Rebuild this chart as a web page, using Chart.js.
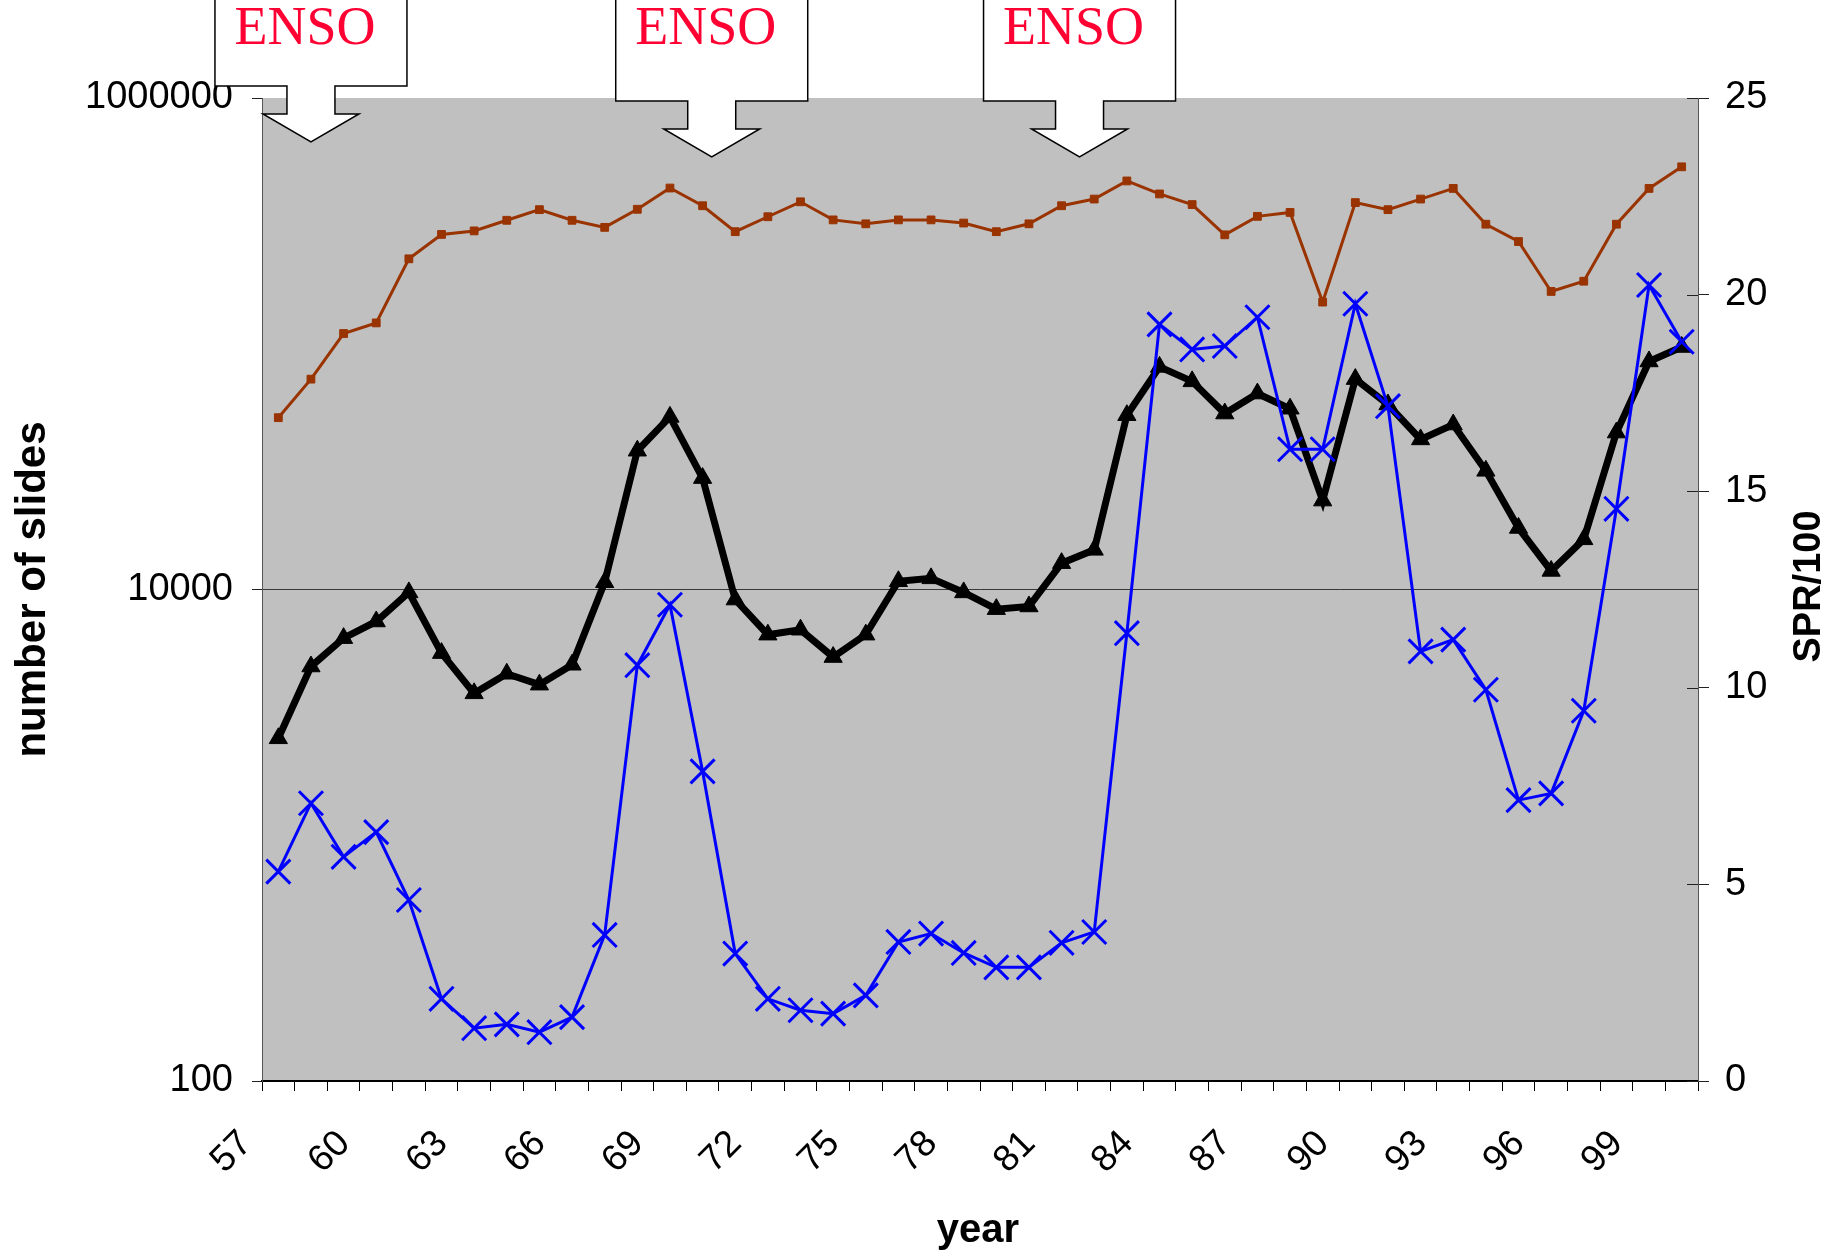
<!DOCTYPE html>
<html>
<head>
<meta charset="utf-8">
<script src="https://cdn.jsdelivr.net/npm/chart.js@4.4.1/dist/chart.umd.min.js"></script>
<style>
  html, body { margin: 0; padding: 0; background: #fff; }
  #wrap { width: 1826px; height: 1255px; }
</style>
</head>
<body>
<div id="wrap"><canvas id="chart" width="1826" height="1255"></canvas></div>
<script>
// Category axis: one entry per year, 1957 - 2000
const years = [1957, 1958, 1959, 1960, 1961, 1962, 1963, 1964, 1965, 1966, 1967,
  1968, 1969, 1970, 1971, 1972, 1973, 1974, 1975, 1976, 1977, 1978, 1979, 1980,
  1981, 1982, 1983, 1984, 1985, 1986, 1987, 1988, 1989, 1990, 1991, 1992, 1993,
  1994, 1995, 1996, 1997, 1998, 1999, 2000];
// Only every third year gets a label
const yearTicks = ['57', '60', '63', '66', '69', '72', '75', '78', '81', '84', '87', '90', '93', '96', '99'];

// Number of slides (thick black line, triangles) - left log axis
const slides = [2480, 4860, 6340, 7410, 9730, 5510, 3780, 4540, 4100, 4940, 10700,
  36700, 50400, 28400, 9100, 6550, 6860, 5310, 6550, 10800, 11100, 9730, 8320,
  8530, 12800, 14500, 51200, 80500, 70300, 52000, 62700, 54400, 23000, 71800,
  56600, 40800, 46900, 30400, 17800, 11900, 16000, 43500, 84700, 97000];

// Second slide count (blue, crosses) - left log axis
const slidesB = [711, 1350, 817, 1030, 545, 216, 164, 170, 158, 182, 393, 4920,
  8670, 1820, 330, 216, 194, 188, 223, 368, 398, 332, 290, 290, 365, 404, 6640,
  119900, 94800, 97900, 128200, 37200, 37200, 145500, 55700, 5600, 6250, 3910,
  1390, 1480, 3210, 21300, 173400, 101900];

// SPR/100 (brown, small squares) - right axis
const spr = [16.87, 17.85, 19.01, 19.28, 20.91, 21.53, 21.62, 21.89, 22.16, 21.89,
  21.71, 22.17, 22.71, 22.26, 21.60, 21.98, 22.36, 21.90, 21.80, 21.90, 21.90,
  21.82, 21.60, 21.80, 22.26, 22.43, 22.89, 22.56, 22.29, 21.52, 21.99, 22.09,
  19.81, 22.34, 22.16, 22.43, 22.70, 21.79, 21.35, 20.08, 20.34, 21.79, 22.70, 23.25];

// Axis ticks
const leftTicks = [100, 10000, 1000000];
const rightTicks = [0, 5, 10, 15, 20, 25];

// ENSO events marked by callout arrows (fractional years between categories)
const ensoYears = [1958, 1970.28, 1981.55];
const ensoLabels = ['ENSO', 'ENSO', 'ENSO'];

const categories = years.map(y => String(y % 100).padStart(2, '0'));

// Grey plot area
const plotBg = {
    id: 'plotBg',
    beforeDraw(chart) {
        const a = chart.chartArea;
        const ctx = chart.ctx;
        ctx.save();
        ctx.fillStyle = '#c0c0c0';
        ctx.fillRect(a.left, a.top, a.right - a.left, a.bottom - a.top);
        ctx.restore();
    }
};

// Right axis tick marks cross the axis line, draw the inner half
const innerTicks = {
    id: 'innerTicks',
    afterDatasetsDraw(chart) {
        const s = chart.scales.y2;
        const ctx = chart.ctx;
        ctx.save();
        ctx.strokeStyle = '#222';
        ctx.lineWidth = 1;
        for (let t of s.ticks) {
            let y = Math.round(s.getPixelForValue(t.value)) + 0.5;
            ctx.beginPath();
            ctx.moveTo(s.left - 11, y);
            ctx.lineTo(s.left, y);
            ctx.stroke();
        }
        ctx.restore();
    }
};

// Axis titles (right title reads bottom to top like the left one)
const axisTitles = {
    id: 'axisTitles',
    afterDraw(chart) {
        const ctx = chart.ctx;
        const a = chart.chartArea;
        const midY = (a.top + a.bottom) / 2;
        ctx.save();
        ctx.fillStyle = '#000';
        ctx.textAlign = 'center';
        ctx.textBaseline = 'alphabetic';

        ctx.font = 'bold 42px "Liberation Sans", Arial, sans-serif';
        ctx.save();
        ctx.translate(45, midY);
        ctx.rotate(-Math.PI / 2);
        ctx.fillText('number of slides', 0, 0);
        ctx.restore();

        ctx.font = 'bold 38px "Liberation Sans", Arial, sans-serif';
        ctx.save();
        ctx.translate(1820, midY - 3);
        ctx.rotate(-Math.PI / 2);
        ctx.fillText('SPR/100', 0, 0);
        ctx.restore();

        ctx.font = 'bold 40px "Liberation Sans", Arial, sans-serif';
        ctx.fillText('year', (a.left + a.right) / 2 - 2, 1242);
        ctx.restore();
    }
};

// ENSO callouts: white box with a down arrow pointing at the event year
const ensoCallouts = {
    id: 'ensoCallouts',
    afterDraw(chart) {
        const ctx = chart.ctx;
        const xs = chart.scales.x;
        const tipYs = [142, 157, 157];
        ctx.save();
        ensoYears.forEach((yr, i) => {
            const x = xs.getPixelForValue(yr - years[0]);
            const tip = tipYs[i];
            const headTop = tip - 28;
            const boxBottom = headTop - 28;
            ctx.beginPath();
            ctx.moveTo(x - 96, -5);
            ctx.lineTo(x + 96, -5);
            ctx.lineTo(x + 96, boxBottom);
            ctx.lineTo(x + 24, boxBottom);
            ctx.lineTo(x + 24, headTop);
            ctx.lineTo(x + 48, headTop);
            ctx.lineTo(x, tip);
            ctx.lineTo(x - 48, headTop);
            ctx.lineTo(x - 24, headTop);
            ctx.lineTo(x - 24, boxBottom);
            ctx.lineTo(x - 96, boxBottom);
            ctx.closePath();
            ctx.fillStyle = '#fff';
            ctx.fill();
            ctx.strokeStyle = '#000';
            ctx.lineWidth = 1.5;
            ctx.lineJoin = 'miter';
            ctx.stroke();

            ctx.fillStyle = '#ff0033';
            ctx.font = '54px "Liberation Serif", "Times New Roman", serif';
            ctx.textAlign = 'center';
            ctx.textBaseline = 'alphabetic';
            ctx.fillText(ensoLabels[i], x - 6, 44);
        });
        ctx.restore();
    }
};

const tickFont = { family: '"Liberation Sans", Arial, sans-serif', size: 38 };

new Chart(document.getElementById('chart'), {
    type: 'line',
    data: {
        labels: categories,
        datasets: [
            {
                label: 'slides (2)',
                data: slidesB,
                yAxisID: 'y',
                borderColor: '#0000ff',
                borderWidth: 3,
                pointStyle: 'crossRot',
                pointRadius: 17,
                pointBorderWidth: 3,
                pointBorderColor: '#0000ff',
                pointBackgroundColor: '#0000ff',
                tension: 0
            },
            {
                label: 'slides',
                data: slides,
                yAxisID: 'y',
                borderColor: '#000',
                borderWidth: 7,
                pointStyle: 'triangle',
                pointRadius: 10.5,
                pointBorderWidth: 1,
                pointBorderColor: '#000',
                pointBackgroundColor: '#000',
                tension: 0
            },
            {
                label: 'SPR/100',
                data: spr,
                yAxisID: 'y2',
                borderColor: '#993300',
                borderWidth: 3,
                pointStyle: 'rect',
                pointRadius: 5.5,
                pointBorderWidth: 1,
                pointBorderColor: '#993300',
                pointBackgroundColor: '#993300',
                tension: 0
            }
        ]
    },
    options: {
        responsive: false,
        animation: false,
        events: [],
        devicePixelRatio: 1,
        layout: { padding: { top: 98, left: 0, right: 0, bottom: 0 } },
        plugins: {
            legend: { display: false },
            tooltip: { enabled: false }
        },
        scales: {
            x: {
                type: 'category',
                offset: true,
                grid: {
                    offset: true,
                    drawOnChartArea: false,
                    drawTicks: true,
                    tickLength: 10,
                    color: '#000',
                    lineWidth: 1
                },
                border: { display: true, color: '#000', width: 2 },
                ticks: {
                    autoSkip: false,
                    maxRotation: 45,
                    minRotation: 45,
                    padding: 31,
                    labelOffset: -32,
                    color: '#000',
                    font: { family: tickFont.family, size: 37 },
                    callback: function (val, i) {
                        const lab = categories[i];
                        return yearTicks.includes(lab) ? lab : '';
                    }
                },
                afterFit: s => { s.height = 1255 - 1081; }
            },
            y: {
                type: 'logarithmic',
                position: 'left',
                min: 100,
                max: 1000000,
                afterBuildTicks: s => { s.ticks = leftTicks.map(v => ({ value: v })); },
                grid: {
                    drawTicks: true,
                    tickLength: 10,
                    color: ctx => (ctx.tick && ctx.tick.value === 10000) ? '#383838' : 'rgba(0,0,0,0)',
                    tickColor: '#222',
                    lineWidth: 1
                },
                border: { display: true, color: '#555', width: 1 },
                ticks: {
                    padding: 19,
                    color: '#000',
                    font: tickFont,
                    callback: v => String(v)
                },
                afterFit: s => { s.width = 262; }
            },
            y2: {
                type: 'linear',
                position: 'right',
                min: 0,
                max: 25,
                afterBuildTicks: s => { s.ticks = rightTicks.map(v => ({ value: v })); },
                grid: {
                    drawOnChartArea: false,
                    drawTicks: true,
                    tickLength: 11,
                    color: '#222',
                    lineWidth: 1
                },
                border: { display: true, color: '#555', width: 1 },
                ticks: {
                    padding: 16,
                    color: '#000',
                    font: tickFont,
                    callback: v => String(v)
                },
                afterFit: s => { s.width = 1826 - 1698; }
            }
        }
    },
    plugins: [plotBg, innerTicks, axisTitles, ensoCallouts]
});
</script>
</body>
</html>
